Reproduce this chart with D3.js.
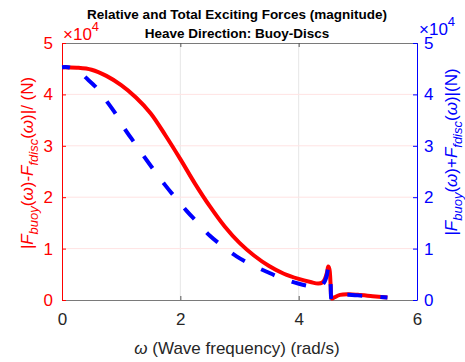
<!DOCTYPE html>
<html>
<head>
<meta charset="utf-8">
<script src="https://cdn.jsdelivr.net/npm/d3@7"></script>
<style>
  body { margin: 0; background: #fff; }
  text { font-family: "Liberation Sans", Arial, sans-serif; }
</style>
</head>
<body>
<div class="chart"></div>
<script>
// relative force |Fbuoy - Ffdisc| (x1e4 N) vs wave frequency (rad/s)
var omegaRel = [0, 0.25, 0.5, 0.75, 1.0, 1.25, 1.5, 1.75, 2.0, 2.25, 2.5, 2.75, 3.0, 3.25, 3.5,
  3.75, 4.0, 4.2, 4.33, 4.4, 4.44, 4.48, 4.5, 4.52, 4.54, 4.56, 4.6, 4.7, 4.85, 5.0, 5.25, 5.5];
var relForce = [4.53, 4.52, 4.48, 4.36, 4.18, 3.94, 3.63, 3.20, 2.74, 2.26, 1.82, 1.43, 1.11, 0.86,
  0.66, 0.51, 0.41, 0.35, 0.32, 0.34, 0.40, 0.54, 0.65, 0.60, 0.30, 0.03, 0.05, 0.10, 0.11, 0.10,
  0.075, 0.05];
// total force |Fbuoy + Ffdisc| (x1e4 N)
var omegaTot = [0, 0.1, 0.2, 0.3, 0.39, 0.59, 0.76, 0.92, 1.06, 1.23, 1.40, 1.57, 1.74, 1.91, 2.11,
  2.28, 2.5, 2.7, 2.95, 3.18, 3.46, 3.68, 3.99, 4.25, 4.38, 4.44, 4.48, 4.5, 4.52, 4.54, 4.56, 4.6,
  4.7, 4.85, 5.0, 5.25, 5.5];
var totForce = [4.53, 4.53, 4.50, 4.44, 4.34, 4.12, 3.86, 3.60, 3.33, 3.05, 2.77, 2.50, 2.24, 2.00,
  1.73, 1.52, 1.25, 1.06, 0.85, 0.70, 0.55, 0.44, 0.32, 0.26, 0.28, 0.36, 0.50, 0.62, 0.58, 0.30,
  0.0, 0.04, 0.09, 0.10, 0.09, 0.07, 0.05];
var xTicks = [0, 2, 4, 6];
var yTicks = [0, 1, 2, 3, 4, 5];

var width = 465, height = 362;
var mLeft = 62, mRight = 417, mTop = 43, mBottom = 300;

var svg = d3.select(".chart")
  .append("svg")
  .attr("width", width)
  .attr("height", height);

svg.append("rect").attr("width", width).attr("height", height).attr("fill", "#fff");

var x = d3.scaleLinear().domain([0, 6]).range([mLeft, mRight]);
var yL = d3.scaleLinear().domain([0, 5]).range([mBottom, mTop]);
var yR = d3.scaleLinear().domain([0, 5]).range([mBottom, mTop]);
var fmt = d3.format("d");

/* ------- GRID -------*/
svg.append("g").selectAll("line")
  .data(xTicks.slice(1, -1))
  .enter().append("line")
  .attr("x1", d => x(d)).attr("x2", d => x(d))
  .attr("y1", mTop).attr("y2", mBottom)
  .attr("stroke", "#e6e6e6").attr("stroke-width", 1);

svg.append("g").selectAll("line")
  .data(yTicks.slice(1, -1))
  .enter().append("line")
  .attr("x1", mLeft).attr("x2", mRight)
  .attr("y1", d => yL(d)).attr("y2", d => yL(d))
  .attr("stroke", "#ffe3e3").attr("stroke-width", 1);

/* ------- AXES -------*/
var xAxis = svg.append("g")
  .attr("transform", "translate(0," + mBottom + ")")
  .call(d3.axisBottom(x).tickValues(xTicks).tickFormat(fmt).tickSize(-4).tickPadding(13).tickSizeOuter(0));
xAxis.select(".domain").attr("stroke", "#7a7a7a");
xAxis.selectAll(".tick line").attr("stroke", "#555");
xAxis.selectAll("text").attr("fill", "#262626").style("font-size", "17px");

var xTop = svg.append("g")
  .attr("transform", "translate(0," + mTop + ")")
  .call(d3.axisTop(x).tickValues(xTicks).tickSize(-4).tickFormat("").tickSizeOuter(0));
xTop.select(".domain").attr("stroke", "#7a7a7a");
xTop.selectAll(".tick line").attr("stroke", "#555");

var lAxis = svg.append("g")
  .attr("transform", "translate(" + mLeft + ",0)")
  .call(d3.axisLeft(yL).tickValues(yTicks).tickFormat(fmt).tickSize(-4).tickPadding(9).tickSizeOuter(0));
lAxis.select(".domain").attr("stroke", "#ff0000");
lAxis.selectAll(".tick line").attr("stroke", "#ff0000");
lAxis.selectAll("text").attr("fill", "#ff0000").style("font-size", "17px");

var rAxis = svg.append("g")
  .attr("transform", "translate(" + mRight + ",0)")
  .call(d3.axisRight(yR).tickValues(yTicks).tickFormat(fmt).tickSize(-4).tickPadding(7).tickSizeOuter(0));
rAxis.select(".domain").attr("stroke", "#0000ff");
rAxis.selectAll(".tick line").attr("stroke", "#0000ff");
rAxis.selectAll("text").attr("fill", "#0000ff").style("font-size", "17px");

/* ------- LINES -------*/
var relPts = omegaRel.map((w, i) => [w, relForce[i]]);
var totPts = omegaTot.map((w, i) => [w, totForce[i]]);

var relLine = d3.line().x(d => x(d[0])).y(d => yL(d[1])).curve(d3.curveCatmullRom.alpha(0.5));
var totLine = d3.line().x(d => x(d[0])).y(d => yR(d[1])).curve(d3.curveCatmullRom.alpha(0.5));

svg.append("path")
  .datum(relPts)
  .attr("d", relLine)
  .attr("fill", "none")
  .attr("stroke", "#ff0000")
  .attr("stroke-width", 4)
  .attr("stroke-linejoin", "round");

svg.append("path")
  .datum(totPts)
  .attr("d", totLine)
  .attr("fill", "none")
  .attr("stroke", "#0000ff")
  .attr("stroke-width", 4)
  .attr("stroke-dasharray", "15,18")
  .attr("stroke-dashoffset", 7);

/* ------- TEXT -------*/
var title = svg.append("text")
  .attr("text-anchor", "middle")
  .attr("font-weight", "bold")
  .style("font-size", "13.5px")
  .attr("fill", "#000");
title.append("tspan").attr("x", 237).attr("y", 18.5).text("Relative and Total Exciting Forces (magnitude)");
title.append("tspan").attr("x", 237).attr("y", 37.5).text("Heave Direction: Buoy-Discs");

function expLabel(xp, yp, color) {
  var t = svg.append("text").attr("x", xp).attr("y", yp).attr("fill", color).style("font-size", "17px");
  t.append("tspan").text("\u00d710");
  t.append("tspan").attr("dy", -9).style("font-size", "13px").text("4");
}
expLabel(63, 40, "#ff0000");
expLabel(419, 35, "#0000ff");

function forceLabel(g, op, tail) {
  g.append("tspan").attr("font-style", "italic").text("|F");
  g.append("tspan").attr("font-style", "italic").attr("dy", 5).style("font-size", "13px").text("buoy");
  g.append("tspan").attr("dy", -5).text("(");
  g.append("tspan").attr("font-style", "italic").text("\u03c9");
  g.append("tspan").text(")" + op);
  g.append("tspan").attr("font-style", "italic").text("F");
  g.append("tspan").attr("font-style", "italic").attr("dy", 5).style("font-size", "13px").text("fdisc");
  g.append("tspan").attr("dy", -5).text("(");
  g.append("tspan").attr("font-style", "italic").text("\u03c9");
  g.append("tspan").text(tail);
}

var lLab = svg.append("text")
  .attr("transform", "translate(33,163) rotate(-90)")
  .attr("text-anchor", "middle")
  .attr("fill", "#ff0000")
  .style("font-size", "17px");
forceLabel(lLab, "-", ")|/ (N)");

var rLab = svg.append("text")
  .attr("transform", "translate(457,152) rotate(-90)")
  .attr("text-anchor", "middle")
  .attr("fill", "#0000ff")
  .style("font-size", "17px");
forceLabel(rLab, "+", ")|(N)");

var xLab = svg.append("text")
  .attr("x", 237).attr("y", 354)
  .attr("text-anchor", "middle")
  .attr("fill", "#262626")
  .style("font-size", "17px");
xLab.append("tspan").attr("font-style", "italic").text("\u03c9");
xLab.append("tspan").text(" (Wave frequency) (rad/s)");
</script>
</body>
</html>
